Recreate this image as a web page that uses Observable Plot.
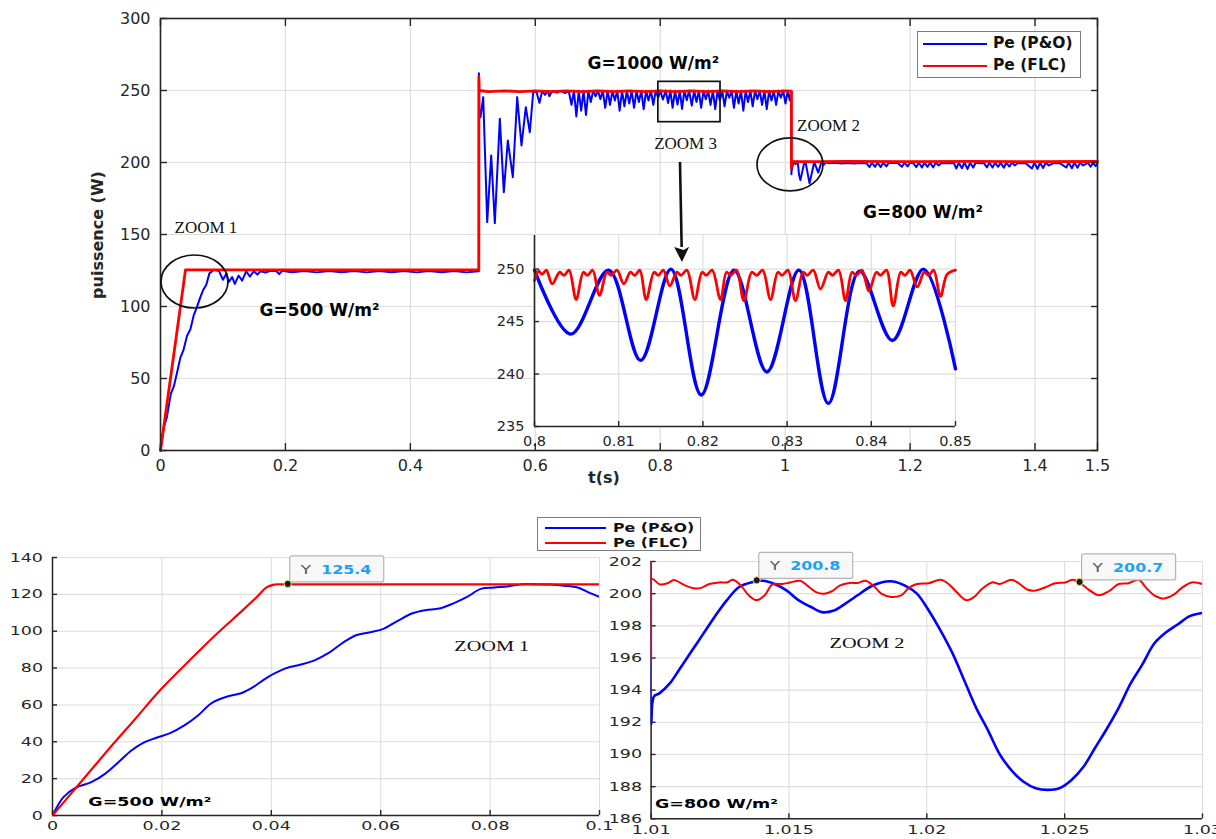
<!DOCTYPE html>
<html><head><meta charset="utf-8">
<script src="https://cdn.jsdelivr.net/npm/d3@7"></script>
<script src="https://cdn.jsdelivr.net/npm/@observablehq/plot@0.6"></script>
<style>
body{margin:0;background:#fff;}
#root{position:relative;width:1216px;height:839px;overflow:hidden;font-family:"DejaVu Sans",sans-serif;color:#262626;}
</style></head><body><div id="root"></div>
<script>
// ---------- ticks / labels ----------
const mainXTicks = [0, 0.2, 0.4, 0.6, 0.8, 1, 1.2, 1.4, 1.5];
const mainYTicks = [0, 50, 100, 150, 200, 250, 300];
const insetXTicks = [0.8, 0.81, 0.82, 0.83, 0.84, 0.85];
const insetYTicks = [235, 240, 245, 250];
const z1XTicks = [0, 0.02, 0.04, 0.06, 0.08, 0.1];
const z1YTicks = [0, 20, 40, 60, 80, 100, 120, 140];
const z2XTicks = [1.01, 1.015, 1.02, 1.025, 1.03];
const z2YTicks = [186, 188, 190, 192, 194, 196, 198, 200, 202];
const seriesNames = ["Pe (P&O)", "Pe (FLC)"];
const seriesColors = ["#0000ff", "#ff0000"];
const yTitle = "puissence (W)";
const xTitle = "t(s)";

// ---------- main chart series [t, P] ----------
const mainPO = [
[0,0],[0.005,16],[0.01,22.6],[0.0165,39.3],[0.0215,44.7],[0.0266,54.3],[0.0317,64.3],[0.0367,69.7],[0.0425,79.7],[0.0479,84.2],[0.053,93.6],[0.0581,99.4],[0.0631,105.6],[0.0682,111.4],[0.0732,115],[0.0783,123],[0.0859,125.5],[0.0935,124.7],[0.1,118.6],
[0.1056,123],[0.109,116.9],[0.1147,120.4],[0.119,115.7],[0.125,121.5],[0.1307,118],[0.1373,124.5],[0.143,120.8],[0.1493,124.5],[0.155,122.2],[0.1603,124.5],[0.168,123.6],[0.175,124.6],[0.185,124.8],[0.19,122.5],[0.195,124.8],[0.21,123.8],[0.23,124.6],[0.25,123.7],[0.27,124.6],[0.29,123.8],[0.31,124.6],[0.33,123.7],[0.35,124.6],[0.37,123.8],[0.39,124.6],[0.41,123.7],[0.43,124.6],[0.45,123.8],[0.47,124.6],[0.49,123.7],[0.5096,124.5],
[0.5097,262],[0.5105,231],[0.5123,231.5],[0.5166,245.4],[0.523,158.6],[0.5294,204.9],[0.5352,157.9],[0.5432,230.3],[0.5496,179.4],[0.556,215.3],[0.564,189.8],[0.571,245.4],[0.5779,211.8],[0.5848,238.4],[0.5912,221],[0.5966,248.6],[0.6015,249.6],[0.6067,241.4],[0.611,249.6],[0.6155,247],[0.62,249.7],[0.6225,246],[0.627,249.7],[0.635,248.5],[0.64,249.7],[0.648,248.3],[0.6535,249.7],
[0.658,240],[0.6619,249.8],[0.6657,232],[0.6696,249.8],[0.6734,236],[0.6773,249.8],[0.6811,233],[0.685,249.8],[0.6888,242],[0.6927,249.8],[0.6965,246],[0.7004,249.8],[0.7042,244],[0.7081,249.8],[0.7119,238],[0.7158,249.8],[0.7196,240],[0.7235,249.8],[0.7273,243],[0.7312,249.8],[0.735,236],[0.7389,249.8],[0.7427,239],[0.7466,249.8],[0.7504,241],[0.7543,249.8],[0.7581,238],[0.762,249.8],[0.7658,242],[0.7697,249.8],[0.7735,237],[0.7774,249.8],[0.7812,243],[0.7851,249.8],[0.7889,240],[0.7928,249.8],[0.7966,245],[0.8,249.9],
[0.8043,243.8],[0.8088,249.9],[0.8126,241.3],[0.8162,250],[0.8198,238],[0.8237,249.9],[0.8276,240.2],[0.8314,249.9],[0.8349,237.2],[0.8386,249.8],[0.8425,243.2],[0.8462,250],[0.8505,239.5],
[0.8543,249.8],[0.858,242],[0.8618,249.8],[0.8655,238],[0.8693,249.8],[0.873,244],[0.8768,249.8],[0.8805,240],[0.8843,249.8],[0.888,237],[0.8918,249.8],[0.8955,243],[0.8993,249.8],[0.903,239],[0.9068,249.8],[0.9105,245],[0.9143,249.8],[0.918,238],[0.9218,249.8],[0.9255,241],[0.9293,249.8],[0.933,236],[0.9368,249.8],[0.9405,242],[0.9443,249.8],[0.948,239],[0.9518,249.8],[0.9555,244],[0.9593,249.8],[0.963,240],[0.9668,249.8],[0.9705,237],[0.9743,249.8],[0.978,243],[0.9818,249.8],[0.9855,240],[0.9893,249.8],[0.993,245],[0.9968,249.8],[1.0005,241],[1.0043,249.8],[1.0075,243],[1.0098,249.5],
[1.01,191.9],[1.0101,193.6],[1.0128,199.6],[1.0138,200.8],[1.0166,198.85],[1.0187,200.76],[1.0205,198.9],[1.0222,191.5],[1.0244,187.8],[1.0268,192.5],[1.03,198.8],[1.0325,200.5],[1.039,185.5],[1.0465,200.2],[1.053,193],[1.058,200.3],[1.062,198.5],[1.066,200.2],[1.07,199.4],[1.08,199.8],[1.09,199.3],[1.1,199.7],[1.11,199.3],[1.12,199.7],[1.13,199.5],
[1.135,196.8],[1.139,199.8],[1.144,197],[1.148,199.8],[1.153,196.8],[1.157,199.8],[1.162,197.3],[1.166,199.8],[1.17,199.6],[1.18,199.7],[1.187,197],[1.191,199.8],[1.196,197.3],[1.2,199.8],[1.205,199.5],[1.21,196.8],[1.214,199.8],[1.219,196.5],[1.223,199.8],[1.228,197],[1.232,199.8],[1.237,196.6],[1.241,199.8],[1.246,198],[1.25,199.7],[1.26,199.4],[1.27,199.7],[1.274,195.8],[1.278,199.8],[1.283,196],[1.287,199.8],[1.292,195.5],[1.296,199.8],[1.301,196.5],[1.305,199.8],[1.31,199.5],[1.318,199.7],[1.323,196.6],[1.327,199.8],[1.332,196.5],[1.336,199.8],[1.341,197],[1.345,199.8],[1.35,196.4],[1.354,199.8],[1.359,197.2],[1.363,199.8],[1.368,198],[1.372,199.7],[1.385,199.5],[1.395,195.8],[1.399,199.8],[1.404,195.5],[1.408,199.8],[1.413,196.2],[1.417,199.8],[1.422,198],[1.43,199.6],[1.44,199.4],[1.45,196.5],[1.454,199.8],[1.459,196],[1.463,199.8],[1.468,196.4],[1.472,199.8],[1.477,198],[1.485,199.7],[1.489,197],[1.493,199.8],[1.497,197.5],[1.5,199.5]
];
const mainFLC = [
[0,0],[0.04,125.4],[0.5096,125.4],[0.5097,259.5],[0.5103,250],[0.525,249.2],[0.55,249.8],[0.575,249.2],[0.6,249.8],[0.625,249.2],[0.65,249.8],[0.675,249.2],[0.7,249.8],[0.725,249.2],[0.75,249.8],[0.775,249.2],[0.8,249.8],[0.825,249.2],[0.85,249.8],[0.875,249.2],[0.9,249.8],[0.925,249.2],[0.95,249.8],[0.975,249.2],[1.0,249.8],[1.01,249.5],[1.01,196],[1.0101,200.8],[1.05,200.6],[1.1,200.8],[1.2,200.6],[1.3,200.8],[1.4,200.6],[1.5,200.7]
];

// ---------- inset (ZOOM 3) ----------
const insetPO = [[0.8,249.9],[0.8043,243.8],[0.8088,249.9],[0.8126,241.3],[0.8162,250],[0.8198,238.0],[0.8237,249.9],[0.8276,240.2],[0.8314,249.9],[0.8349,237.2],[0.8386,249.8],[0.8425,243.2],[0.8462,250],[0.85,240.5]];
const insetFLC = [
[0.8,248.9],[0.8005,249.8],[0.8009,249.5],[0.8014,249.9],[0.8021,248.6],
[0.803,249.7],[0.8035,249.4],[0.8041,249.9],[0.80495,247.1],
[0.8058,249.7],[0.8063,249.4],[0.8069,249.9],[0.80772,247.5],
[0.8086,249.7],[0.8091,249.4],[0.8098,249.9],[0.81061,248.6],
[0.8114,249.7],[0.8119,249.4],[0.8125,249.9],[0.81326,247.1],
[0.8142,249.7],[0.8147,249.4],[0.8153,249.9],[0.81607,248.4],
[0.8169,249.7],[0.8174,249.4],[0.8181,249.9],[0.81904,247.1],
[0.8199,249.7],[0.8204,249.4],[0.8211,249.9],[0.82209,247.1],
[0.8228,249.7],[0.8233,249.4],[0.824,249.9],[0.82486,247.0],
[0.8258,249.7],[0.8264,249.4],[0.8271,249.9],[0.82803,247.1],
[0.8289,249.7],[0.8294,249.4],[0.8301,249.9],[0.831,247.0],
[0.8319,249.7],[0.8324,249.4],[0.8331,249.9],[0.83397,248.1],
[0.8349,249.7],[0.8354,249.4],[0.8361,249.9],[0.83694,247.0],
[0.8377,249.7],[0.8382,249.4],[0.8389,249.9],[0.83971,247.9],
[0.8406,249.7],[0.8411,249.4],[0.8418,249.9],[0.8426,246.5],
[0.8435,249.7],[0.844,249.4],[0.8446,249.9],[0.84545,248.3],
[0.8463,249.7],[0.8468,249.4],[0.8474,249.9],[0.84822,247.4],
[0.849,249.5],[0.85,249.9]
];

// ---------- ZOOM 1 (bottom left) ----------
const zoom1PO = [[0,0],[0.002,10],[0.0042,15],[0.0071,18.1],[0.0096,22.6],[0.0121,29],[0.0143,35],[0.0165,39.3],[0.019,42.2],[0.0215,44.7],[0.0241,48.9],[0.0266,54.3],[0.0291,61],[0.0317,64.3],[0.0346,66.5],[0.0367,69.7],[0.0396,75.5],[0.0425,79.7],[0.0454,81.9],[0.0479,84.2],[0.0505,88.2],[0.053,93.6],[0.0555,97.8],[0.0581,99.4],[0.0606,101.4],[0.0631,105.6],[0.0657,109.6],[0.0682,111.4],[0.0707,112.3],[0.0732,115],[0.0758,118.6],[0.0783,123],[0.0808,123.7],[0.0834,124.4],[0.0859,125.5],[0.0884,125.5],[0.091,125.3],[0.0935,124.7],[0.096,123.7],[0.0982,120.8],[0.1,118.6]];
const zoom1FLC = [[0,0],[0.005,17.5],[0.01,35],[0.015,52],[0.02,69],[0.025,84],[0.03,98.5],[0.035,112],[0.0375,119],[0.039,123.5],[0.0405,125.3],[0.043,125.4],[0.1,125.4]];
const zoom1Tips = [{t: 0.0431, v: 125.4}];

// ---------- ZOOM 2 (bottom right) ----------
const zoom2PO = [[1.01,249],[1.01,191.9],[1.0101,193.6],[1.0103,193.8],[1.01067,194.4],[1.01103,195.3],[1.01146,196.4],[1.01189,197.5],[1.01232,198.6],[1.01275,199.6],[1.01318,200.4],[1.01362,200.7],[1.01405,200.8],[1.01448,200.6],[1.01491,200.2],[1.01534,199.6],[1.01577,199.2],[1.0162,198.85],[1.01663,198.95],[1.01706,199.4],[1.01749,199.9],[1.01792,200.4],[1.01835,200.7],[1.01878,200.76],[1.01921,200.5],[1.01964,200],[1.02007,198.95],[1.0205,197.7],[1.02093,196.3],[1.02136,194.6],[1.02179,192.9],[1.02222,191.5],[1.02265,190],[1.02308,189],[1.02351,188.3],[1.02395,187.9],[1.02438,187.8],[1.02481,187.9],[1.02524,188.4],[1.02567,189.2],[1.0261,190.4],[1.02653,191.6],[1.02696,192.9],[1.02739,194.4],[1.02782,195.6],[1.02825,196.9],[1.02868,197.6],[1.02911,198.1],[1.02954,198.6],[1.03,198.8]];
const zoom2FLC = [[1.01,250],[1.01,196],[1.01003,200.9],[1.01032,200.57],[1.0106,200.65],[1.01082,200.85],[1.01103,200.7],[1.01125,200.5],[1.01154,200.34],[1.01182,200.36],[1.01211,200.6],[1.01247,200.7],[1.01275,200.7],[1.01297,200.86],[1.01326,200.5],[1.01354,199.9],[1.01383,199.6],[1.01412,199.9],[1.0144,200.57],[1.01476,200.6],[1.01505,200.7],[1.01541,200.8],[1.0157,200.45],[1.01598,200.1],[1.01627,200.0],[1.01656,200.15],[1.01684,200.5],[1.0172,200.67],[1.01749,200.67],[1.01778,200.8],[1.01806,200.5],[1.01835,200.0],[1.01871,199.8],[1.01907,199.9],[1.01935,200.36],[1.01964,200.6],[1.02007,200.65],[1.0205,200.86],[1.02079,200.6],[1.02108,200.1],[1.02143,199.6],[1.02172,199.8],[1.02201,200.3],[1.02237,200.7],[1.02265,200.6],[1.02308,200.86],[1.02337,200.6],[1.02366,200.24],[1.02395,200.2],[1.0243,200.4],[1.02466,200.65],[1.02502,200.7],[1.02531,200.86],[1.02557,200.65],[1.02588,200.24],[1.02624,199.9],[1.0266,200.15],[1.02696,200.6],[1.02732,200.65],[1.02768,200.86],[1.02796,200.36],[1.02825,199.9],[1.02861,199.7],[1.02897,199.95],[1.02925,200.36],[1.02961,200.7],[1.03,200.6]];
const zoom2Tips = [{t: 1.01385, v: 200.8}, {t: 1.02556, v: 200.7}];

// ---------- annotations (data units) ----------
const mainSerifNotes = [{t: 0.0728, v: 154.9, label: "ZOOM 1"}, {t: 0.8405, v: 213.2, label: "ZOOM 3"}, {t: 1.0694, v: 225.7, label: "ZOOM 2"}];
const mainBoldNotes = [{t: 0.2545, v: 97.2, label: "G=500 W/m²"}, {t: 0.789, v: 268.75, label: "G=1000 W/m²"}, {t: 1.2206, v: 165.3, label: "G=800 W/m²"}];
const zoomEllipses = [{t: 0.0552, v: 117, rt: 0.0536, rv: 18.4}, {t: 1.0085, v: 198.3, rt: 0.0528, rv: 18.4}];
const zoom3Box = {t1: 0.797, t2: 0.8965, v1: 228, v2: 256};
const zoom3Arrow = {t1: 0.8324, v1: 200, t2: 0.8356, v2: 130.6};
const z1SerifNotes = [{t: 0.0803, v: 91.8, label: "ZOOM 1"}];
const z1BoldNotes = [{t: 0.0178, v: 7.6, label: "G=500 W/m²"}];
const z2SerifNotes = [{t: 1.01783, v: 196.9, label: "ZOOM 2"}];
const z2BoldNotes = [{t: 1.01237, v: 186.9, label: "G=800 W/m²"}];

// ---------- helpers ----------
const FONT = "'DejaVu Sans', sans-serif";
const SERIF = "'Liberation Serif', 'DejaVu Serif', serif";
const INK = "#262626";
const GRID = "#dedede";
const fmt = d => String(d);
const pt = {x: d => d[0], y: d => d[1]};
const root = document.getElementById("root");
function place(el, left, top) {
  el.style.position = "absolute"; el.style.left = left + "px"; el.style.top = top + "px";
  root.appendChild(el); return el;
}
function stretch(nodes, sx) {
  nodes.forEach(t => {
    const tr = t.getAttribute("transform") || "";
    const x = t.getAttribute("x");
    let extra = "";
    if (x !== null && isFinite(+x)) {
      extra = ` translate(${+x},0)`;
      t.removeAttribute("x");
    }
    t.setAttribute("transform", `${tr}${extra} scale(${sx},1)`);
  });
}
function textsOutside(svg, labels) {
  return [...svg.querySelectorAll("text")].filter(t => !labels.some(l => t.closest(`g[aria-label="${l}"]`)));
}
function tickAxes(xt, yt, size, sides) {
  const m = [];
  if (sides.includes("b")) m.push(Plot.axisX(xt, {anchor: "bottom", tickSize: size, tickFormat: () => "", label: null, strokeWidth: 1.4}));
  if (sides.includes("t")) m.push(Plot.axisX(xt, {anchor: "top", tickSize: size, tickFormat: () => "", label: null, strokeWidth: 1.4}));
  if (sides.includes("l")) m.push(Plot.axisY(yt, {anchor: "left", tickSize: size, tickFormat: () => "", label: null, strokeWidth: 1.4}));
  if (sides.includes("r")) m.push(Plot.axisY(yt, {anchor: "right", tickSize: size, tickFormat: () => "", label: null, strokeWidth: 1.4}));
  return m;
}
function baseStyle(fs) {
  return {background: "transparent", fontFamily: FONT, fontSize: fs + "px", color: INK, overflow: "visible"};
}

// ---------- main chart ----------
const main = Plot.plot({
  width: 1216, height: 500,
  marginLeft: 160, marginRight: 119, marginTop: 18, marginBottom: 50,
  x: {type: "linear", domain: [0, 1.5]},
  y: {type: "linear", domain: [0, 300]},
  style: baseStyle(16),
  marks: [
    Plot.gridX(mainXTicks, {stroke: GRID, strokeOpacity: 1, strokeWidth: 1.2}),
    Plot.gridY(mainYTicks, {stroke: GRID, strokeOpacity: 1, strokeWidth: 1.2}),
    Plot.line(mainPO, {...pt, stroke: seriesColors[0], strokeWidth: 2}),
    Plot.line(mainFLC, {...pt, stroke: seriesColors[1], strokeWidth: 2.8}),
    Plot.frame({stroke: INK, strokeWidth: 1.6}),
    ...tickAxes(mainXTicks, mainYTicks, -7, "btlr"),
    Plot.axisX(mainXTicks, {anchor: "bottom", tickSize: 0, tickPadding: 9, tickFormat: fmt, label: null}),
    Plot.axisY(mainYTicks, {anchor: "left", tickSize: 0, tickPadding: 10, tickFormat: fmt, label: null}),
    Plot.text(mainSerifNotes, {x: "t", y: "v", text: "label", fontFamily: SERIF, fontSize: 17, fill: "#111", ariaLabel: "serif-note"}),
    Plot.text(mainBoldNotes, {x: "t", y: "v", text: "label", fontFamily: FONT, fontSize: 17, fontWeight: "bold", fill: "#000", ariaLabel: "bold-note"})
  ]
});
stretch([...main.querySelectorAll('g[aria-label="serif-note"] text')], 1.23);
place(main, 0, 0);

// ---------- inset ----------
const inset = Plot.plot({
  width: 520, height: 235,
  marginLeft: 64, marginRight: 35, marginTop: 10, marginBottom: 34,
  x: {type: "linear", domain: [0.8, 0.85]},
  y: {type: "linear", domain: [235, 253.2]},
  style: baseStyle(14.5),
  marks: [
    Plot.frame({fill: "white", stroke: "none"}),
    Plot.gridX(insetXTicks, {stroke: GRID, strokeOpacity: 1, strokeWidth: 1.2}),
    Plot.gridY(insetYTicks, {stroke: GRID, strokeOpacity: 1, strokeWidth: 1.2}),
    Plot.line(insetPO, {...pt, stroke: seriesColors[0], strokeWidth: 3.4, curve: "catmull-rom"}),
    Plot.line(insetFLC, {...pt, stroke: seriesColors[1], strokeWidth: 2.8, curve: "catmull-rom"}),
    Plot.ruleX([0.8], {stroke: INK, strokeWidth: 1.6}),
    Plot.ruleY([235], {stroke: INK, strokeWidth: 1.6}),
    ...tickAxes(insetXTicks, insetYTicks, -5, "bl"),
    Plot.axisX(insetXTicks, {anchor: "bottom", tickSize: 0, tickPadding: 9, tickFormat: fmt, label: null}),
    Plot.axisY(insetYTicks, {anchor: "left", tickSize: 0, tickPadding: 10, tickFormat: fmt, label: null})
  ]
});
place(inset, 470, 225);

// ---------- overlay annotations on the main chart ----------
const mx = main.scale("x"), my = main.scale("y");
const ov = d3.create("svg").attr("width", 1216).attr("height", 500).style("overflow", "visible").style("pointer-events", "none");
zoomEllipses.forEach(e => {
  ov.append("ellipse")
    .attr("cx", mx.apply(e.t)).attr("cy", my.apply(e.v))
    .attr("rx", mx.apply(e.t + e.rt) - mx.apply(e.t))
    .attr("ry", my.apply(e.v - e.rv) - my.apply(e.v))
    .attr("fill", "none").attr("stroke", "#111").attr("stroke-width", 1.7);
});
ov.append("rect")
  .attr("x", mx.apply(zoom3Box.t1)).attr("y", my.apply(zoom3Box.v2))
  .attr("width", mx.apply(zoom3Box.t2) - mx.apply(zoom3Box.t1))
  .attr("height", my.apply(zoom3Box.v1) - my.apply(zoom3Box.v2))
  .attr("fill", "none").attr("stroke", "#111").attr("stroke-width", 1.7);
{
  const x1 = mx.apply(zoom3Arrow.t1), y1 = my.apply(zoom3Arrow.v1);
  const x2 = mx.apply(zoom3Arrow.t2), y2 = my.apply(zoom3Arrow.v2);
  const L = Math.hypot(x2 - x1, y2 - y1), ux = (x2 - x1) / L, uy = (y2 - y1) / L;
  const hl = 15, hw = 7.5;
  const bx = x2 - ux * hl, by = y2 - uy * hl;
  ov.append("line").attr("x1", x1).attr("y1", y1).attr("x2", bx).attr("y2", by).attr("stroke", "#111").attr("stroke-width", 2.6);
  ov.append("path").attr("d", `M${x2},${y2}L${bx - uy * hw},${by + ux * hw}L${bx + uy * 2},${by - ux * 2 + 3}L${bx + uy * hw},${by - ux * hw}Z`).attr("fill", "#111");
}
place(ov.node(), 0, 0);

// main legend + titles
function legend(left, top, w, h, rowsY, lineX1, lineX2, textX, fs, sx, bw) {
  const box = document.createElement("div");
  Object.assign(box.style, {width: w + "px", height: h + "px", border: `${bw}px solid #7d7d7d`, background: "#fff", boxSizing: "border-box"});
  seriesNames.forEach((name, i) => {
    const ln = document.createElement("div");
    Object.assign(ln.style, {position: "absolute", left: lineX1 + "px", top: (rowsY[i] - 1) + "px", width: (lineX2 - lineX1) + "px", height: "2px", background: seriesColors[i]});
    box.appendChild(ln);
    const tx = document.createElement("div");
    tx.textContent = name;
    Object.assign(tx.style, {position: "absolute", left: textX + "px", top: rowsY[i] + "px", transform: `translateY(-50%) scaleX(${sx})`, transformOrigin: "left center", fontWeight: "bold", fontSize: fs + "px", whiteSpace: "nowrap", color: "#111", lineHeight: "1"});
    box.appendChild(tx);
  });
  place(box, left, top);
}
legend(917, 31, 164, 47, [12, 34], 5, 69, 75, 15.5, 1, 1.5);

const yt = document.createElement("div");
yt.textContent = yTitle;
Object.assign(yt.style, {transform: "translate(-50%,-50%) rotate(-90deg)", fontWeight: "bold", fontSize: "16px", whiteSpace: "nowrap", color: INK, lineHeight: "1"});
place(yt, 98, 235);
const xt = document.createElement("div");
xt.textContent = xTitle;
Object.assign(xt.style, {transform: "translate(-50%,-50%)", fontWeight: "bold", fontSize: "16px", whiteSpace: "nowrap", color: INK, lineHeight: "1"});
place(xt, 604, 478);

// ---------- tips ----------
function drawTips(plot, tips) {
  const sx = plot.scale("x"), sy = plot.scale("y");
  const g = d3.select(plot).append("g").attr("text-anchor", "start");
  tips.forEach(d => {
    const px = sx.apply(d.t), py = sy.apply(d.v);
    const b = g.append("g").attr("transform", `translate(${px + 2},${py - 28})`);
    b.append("rect").attr("width", 94).attr("height", 26).attr("rx", 2).attr("fill", "#f8f8f8").attr("stroke", "#b5b5b5").attr("stroke-width", 1.2);
    b.append("text").attr("text-anchor", "start").attr("transform", "translate(11,18) scale(1.35,1)").attr("font-size", 12.5).attr("fill", "#555").text("Y");
    b.append("text").attr("text-anchor", "start").attr("transform", "translate(31.5,18) scale(1.27,1)").attr("font-size", 12.5).attr("font-weight", "bold").attr("fill", "#1ba1f5").text(d.v.toFixed(1));
    g.append("circle").attr("cx", px).attr("cy", py).attr("r", 3.6).attr("fill", "#1a1a1a").attr("stroke", "#f2e07a").attr("stroke-width", 1);
  });
}

// ---------- ZOOM 1 ----------
const z1 = Plot.plot({
  width: 605, height: 339,
  marginLeft: 52, marginRight: 6, marginTop: 57, marginBottom: 24,
  x: {type: "linear", domain: [0, 0.1]},
  y: {type: "linear", domain: [0, 140]},
  style: baseStyle(12.5),
  marks: [
    Plot.gridX(z1XTicks, {stroke: GRID, strokeOpacity: 1, strokeWidth: 1.1}),
    Plot.gridY(z1YTicks, {stroke: GRID, strokeOpacity: 1, strokeWidth: 1.1}),
    Plot.ruleX([0], {stroke: INK, strokeWidth: 1.5}),
    Plot.ruleY([0], {stroke: INK, strokeWidth: 1.5}),
    ...tickAxes(z1XTicks, z1YTicks, -5, "bl"),
    Plot.line(zoom1PO, {...pt, stroke: seriesColors[0], strokeWidth: 2, curve: "catmull-rom", clip: true}),
    Plot.line(zoom1FLC, {...pt, stroke: seriesColors[1], strokeWidth: 2.2, curve: "catmull-rom", clip: true}),
    Plot.axisX(z1XTicks, {anchor: "bottom", tickSize: 0, tickPadding: 6, tickFormat: fmt, label: null}),
    Plot.axisY(z1YTicks, {anchor: "left", tickSize: 0, tickPadding: 9.5, tickFormat: fmt, label: null}),
    Plot.text(z1SerifNotes, {x: "t", y: "v", text: "label", fontFamily: SERIF, fontSize: 14.5, fill: "#111", ariaLabel: "serif-note"}),
    Plot.text(z1BoldNotes, {x: "t", y: "v", text: "label", fontFamily: FONT, fontSize: 12.5, fontWeight: "bold", fill: "#000", ariaLabel: "bold-note"})
  ]
});
stretch(textsOutside(z1, ["serif-note", "bold-note"]), 1.4);
stretch([...z1.querySelectorAll('g[aria-label="serif-note"] text')], 1.72);
stretch([...z1.querySelectorAll('g[aria-label="bold-note"] text')], 1.37);
drawTips(z1, zoom1Tips);
place(z1, 0, 500);

// ---------- ZOOM 2 ----------
const z2 = Plot.plot({
  width: 611, height: 339,
  marginLeft: 45.6, marginRight: 14, marginTop: 61, marginBottom: 20.7,
  x: {type: "linear", domain: [1.01, 1.03]},
  y: {type: "linear", domain: [186, 202]},
  style: baseStyle(12.5),
  marks: [
    Plot.gridX(z2XTicks, {stroke: GRID, strokeOpacity: 1, strokeWidth: 1.1}),
    Plot.gridY(z2YTicks, {stroke: GRID, strokeOpacity: 1, strokeWidth: 1.1}),
    Plot.ruleX([1.01], {stroke: INK, strokeWidth: 1.5}),
    Plot.ruleY([186], {stroke: INK, strokeWidth: 1.5}),
    ...tickAxes(z2XTicks, z2YTicks, -5, "bl"),
    Plot.line(zoom2PO, {...pt, stroke: seriesColors[0], strokeWidth: 2.6, curve: "catmull-rom", clip: true}),
    Plot.line(zoom2FLC, {...pt, stroke: seriesColors[1], strokeWidth: 2, curve: "catmull-rom", clip: true}),
    Plot.axisX(z2XTicks, {anchor: "bottom", tickSize: 0, tickPadding: 6, tickFormat: fmt, label: null}),
    Plot.axisY(z2YTicks, {anchor: "left", tickSize: 0, tickPadding: 9, tickFormat: fmt, label: null}),
    Plot.text(z2SerifNotes, {x: "t", y: "v", text: "label", fontFamily: SERIF, fontSize: 14.5, fill: "#111", ariaLabel: "serif-note"}),
    Plot.text(z2BoldNotes, {x: "t", y: "v", text: "label", fontFamily: FONT, fontSize: 12.5, fontWeight: "bold", fill: "#000", ariaLabel: "bold-note"})
  ]
});
stretch(textsOutside(z2, ["serif-note", "bold-note"]), 1.4);
stretch([...z2.querySelectorAll('g[aria-label="serif-note"] text')], 1.72);
stretch([...z2.querySelectorAll('g[aria-label="bold-note"] text')], 1.37);
drawTips(z2, zoom2Tips);
place(z2, 605, 500);

// bottom legend
legend(537, 517, 164, 34, [10, 25], 7, 68, 75, 12, 1.32, 1.2);
</script></body></html>
